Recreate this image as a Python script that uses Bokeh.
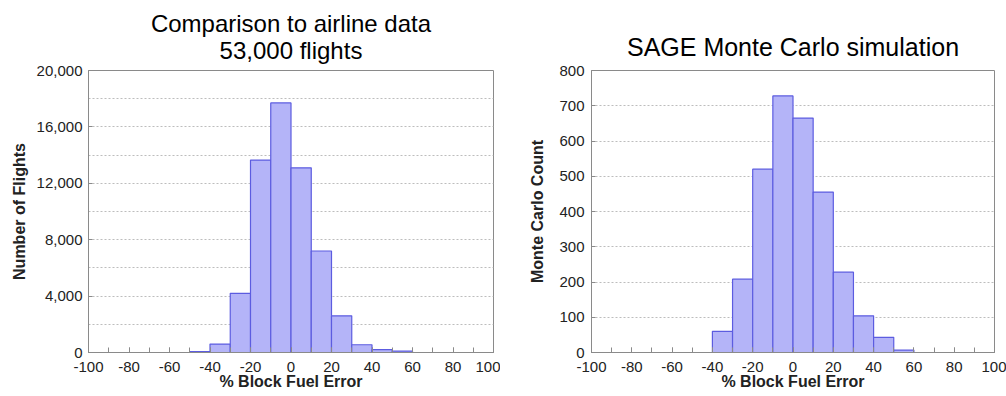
from bokeh.plotting import figure
from bokeh.models import Range1d, SingleIntervalTicker, NumeralTickFormatter, FixedTicker
from bokeh.layouts import row
from bokeh.embed import file_html
from bokeh.resources import INLINE

# ---------------- data ----------------
airline_bin_edges = [-50, -40, -30, -20, -10, 0, 10, 20, 30, 40, 50, 60]
airline_counts = [60, 600, 4200, 13650, 17700, 13100, 7200, 2600, 550, 200, 100]

sage_bin_edges = [-40, -30, -20, -10, 0, 10, 20, 30, 40, 50, 60]
sage_counts = [60, 208, 520, 728, 665, 455, 228, 104, 43, 7]

airline_y_ticks = [0, 4000, 8000, 12000, 16000, 20000]
airline_y_grid = [2000, 4000, 6000, 8000, 10000, 12000, 14000, 16000, 18000]
sage_y_ticks = [0, 100, 200, 300, 400, 500, 600, 700, 800]
sage_y_grid = [100, 200, 300, 400, 500, 600, 700]

left_titles = ["Comparison to airline data", "53,000 flights"]
right_titles = ["SAGE Monte Carlo simulation"]
x_label = "% Block Fuel Error"
left_y_label = "Number of Flights"
right_y_label = "Monte Carlo Count"

# ---------------- style ----------------
FONT = "Liberation Sans"
H = 396
TOP = 68
BOTTOM = 44
BAR_FILL = "#b4b4f8"
BAR_LINE = "#5c5ce0"
AXIS_COL = "#8a8a8a"
TEXT_COL = "#222222"


def make_panel(edges, counts, ymax, yticks, ygrid, ylabel, titles, title_size, title_standoff,
               width, bl, br, ytick_standoff, ylabel_standoff, fmt):
    p = figure(width=width, height=H, output_backend="svg", toolbar_location=None,
               x_range=Range1d(-100, 100), y_range=Range1d(0, ymax),
               min_border_left=bl, min_border_right=br,
               min_border_top=TOP, min_border_bottom=BOTTOM)
    p.background_fill_color = "white"
    p.border_fill_color = "white"
    p.outline_line_color = AXIS_COL
    p.outline_line_width = 1

    p.quad(left=edges[:-1], right=edges[1:], top=counts, bottom=0,
           fill_color=BAR_FILL, line_color=BAR_LINE, line_width=1.2)

    t = p.title
    t.text = "\n".join(titles)
    t.align = "center"
    try:
        t.text_align = "center"
    except Exception:
        pass
    t.text_font = FONT
    t.text_font_size = title_size
    t.text_font_style = "normal"
    t.text_color = "black"
    t.text_line_height = 1.0
    t.standoff = title_standoff

    # x axis
    xa = p.xaxis[0]
    xa.ticker = SingleIntervalTicker(interval=20, num_minor_ticks=2)
    xa.formatter = NumeralTickFormatter(format="0")
    xa.axis_line_color = AXIS_COL
    xa.major_tick_line_color = AXIS_COL
    xa.minor_tick_line_color = AXIS_COL
    xa.major_tick_in = 5
    xa.major_tick_out = 0
    xa.minor_tick_in = 5
    xa.minor_tick_out = 0
    xa.major_label_text_font = FONT
    xa.major_label_text_font_size = "15px"
    xa.major_label_text_color = TEXT_COL
    xa.major_label_standoff = 9
    xa.axis_label = x_label
    xa.axis_label_text_font = FONT
    xa.axis_label_text_font_size = "16px"
    xa.axis_label_text_font_style = "bold"
    xa.axis_label_text_color = TEXT_COL
    xa.axis_label_standoff = -2

    # y axis
    ya = p.yaxis[0]
    ya.ticker = FixedTicker(ticks=yticks)
    ya.formatter = NumeralTickFormatter(format=fmt)
    ya.axis_line_color = AXIS_COL
    ya.major_tick_line_color = AXIS_COL
    ya.major_tick_in = 4
    ya.major_tick_out = 0
    ya.minor_tick_line_color = None
    ya.major_label_text_font = FONT
    ya.major_label_text_font_size = "15px"
    ya.major_label_text_color = TEXT_COL
    ya.major_label_standoff = ytick_standoff
    ya.axis_label = ylabel
    ya.axis_label_text_font = FONT
    ya.axis_label_text_font_size = "16px"
    ya.axis_label_text_font_style = "bold"
    ya.axis_label_text_color = TEXT_COL
    ya.axis_label_standoff = ylabel_standoff

    p.xgrid.visible = False
    p.ygrid.ticker = FixedTicker(ticks=ygrid)
    p.ygrid.grid_line_color = "#bdbdbd"
    p.ygrid.grid_line_dash = "2 2"
    p.ygrid.grid_line_width = 1
    return p


p1 = make_panel(airline_bin_edges, airline_counts, 20000, airline_y_ticks, airline_y_grid,
                left_y_label, left_titles, "24px", 14, 500, 88, 7, 6, 6, "0,0")
p2 = make_panel(sage_bin_edges, sage_counts, 800, sage_y_ticks, sage_y_grid,
                right_y_label, right_titles, "25px", 19, 506, 91, 12, 7, 10, "0")

layout = row(p1, p2)
open("out.html", "w").write(file_html(layout, INLINE))
